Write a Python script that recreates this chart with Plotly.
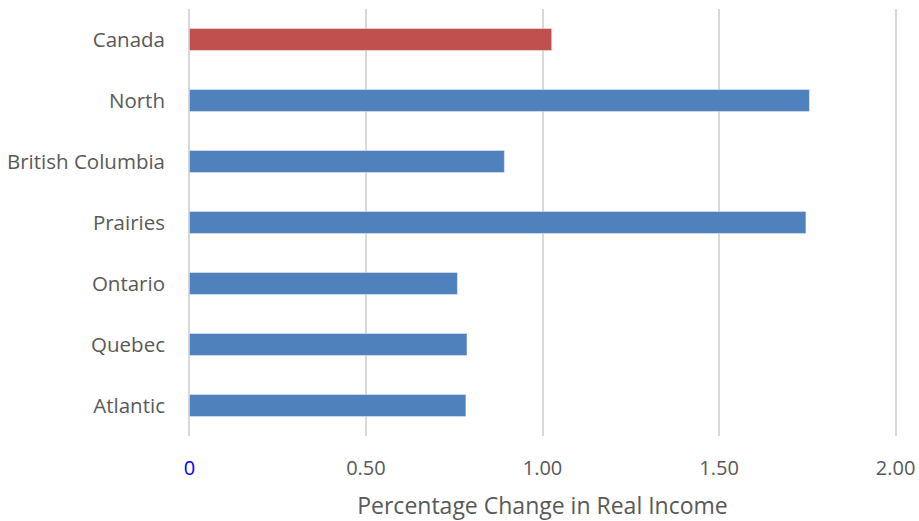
import plotly.graph_objects as go

categories = ["Atlantic", "Quebec", "Ontario", "Prairies", "British Columbia", "North", "Canada"]
values = [0.783, 0.786, 0.759, 1.746, 0.892, 1.756, 1.026]
bar_colors = ["#4F81BD", "#4F81BD", "#4F81BD", "#4F81BD", "#4F81BD", "#4F81BD", "#C0504D"]
tick_vals = [0, 0.5, 1.0, 1.5, 2.0]
tick_text = ["<span style='color:#0000FF'>0</span>", "0.50", "1.00", "1.50", "2.00"]
x_title = "Percentage Change in Real Income"

fig = go.Figure(go.Bar(
    y=categories, x=values, orientation="h",
    marker=dict(color=bar_colors, line=dict(color="rgba(255,255,255,0.4)", width=1)),
    width=0.36,
))

font_family = "Open Sans, Liberation Sans, sans-serif"
fig.update_layout(
    width=919, height=521,
    margin=dict(l=188, r=22, t=9, b=85, autoexpand=False),
    plot_bgcolor="white", paper_bgcolor="white",
    showlegend=False,
    font=dict(family=font_family, size=20.5, color="#595959"),
    xaxis=dict(
        range=[-0.004, 2.004], tickvals=tick_vals, ticktext=tick_text,
        showgrid=True, gridcolor="#D9D9D9", gridwidth=2,
        zeroline=False, showline=False, automargin=False,
        ticks="", ticklabelstandoff=18, ticklabeloverflow="allow",
        tickfont=dict(size=20),
        title=dict(text=x_title, font=dict(size=23, color="#595959"), standoff=20),
    ),
    yaxis=dict(
        categoryorder="array", categoryarray=categories,
        range=[-0.5, 6.5], automargin=False,
        showgrid=False, zeroline=False, showline=False,
        ticks="", ticklabelstandoff=22, ticklabeloverflow="allow",
    ),
)

fig.write_html(
    "out.html",
    config={"displayModeBar": False},
    post_script="document.body.style.margin='0';document.body.style.overflow='hidden';",
)
